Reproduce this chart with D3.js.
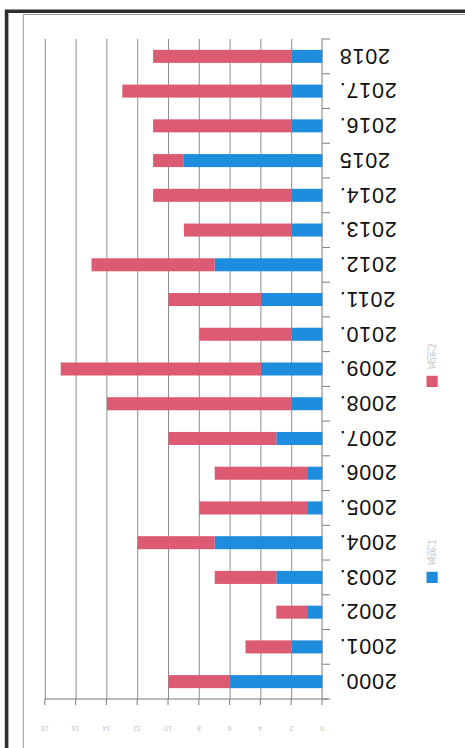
<!DOCTYPE html>
<html>
<head>
<meta charset="utf-8">
<title>bars</title>
<style>
  body { margin: 0; background: #fff; }
  svg { display: block; }
</style>
</head>
<body>
<script src="https://cdn.jsdelivr.net/npm/d3@7"></script>
<svg width="465" height="748" id="mainsvg"></svg>
<script>
const years = ["2000","2001","2002","2003","2004","2005","2006","2007","2008","2009",
               "2010","2011","2012","2013","2014","2015","2016","2017","2018"];
const yearLabels = ["2000.","2001.","2002.","2003.","2004.","2005.","2006.","2007.","2008.","2009.",
                    "2010.","2011.","2012.","2013.","2014.","2015","2016.","2017.","2018"];
const blueValues = [6, 2, 1, 3, 7, 1, 1, 3, 2, 4, 2, 4, 7, 2, 2, 9, 2, 2, 2];
const pinkValues = [4, 3, 2, 4, 5, 7, 6, 7, 12, 13, 6, 6, 8, 7, 9, 2, 9, 11, 9];
const xTicks = [0, 2, 4, 6, 8, 10, 12, 14, 16, 18];
const seriesNames = ["系列1", "系列2"];

const svg = d3.select('#mainsvg');
const W = +svg.attr('width'), H = +svg.attr('height');

// the scan is upside down, so draw the chart normally and turn it
const g = svg.append('g').attr('transform', `rotate(180, ${W / 2}, ${H / 2})`);

const rows = years.map((y, i) => ({ year: y, blue: blueValues[i], pink: pinkValues[i] }));
const stacked = d3.stack().keys(['blue', 'pink'])(rows);
const colors = { blue: '#1f8ddd', pink: '#dd5a73' };

const x = d3.scaleLinear().domain([0, 18]).range([142.5, 419.7]);
const y = d3.scaleBand().domain(years).range([49, 709]).paddingInner(0.625).paddingOuter(0.3125);

// frame
g.append('path')
  .attr('d', `M0,733.5H441.7V0`)
  .attr('fill', 'none').attr('stroke', '#9a9a9a').attr('stroke-width', 1);
g.append('path')
  .attr('d', `M0,736.8H458.4V0`)
  .attr('fill', 'none').attr('stroke', '#2e2e2e').attr('stroke-width', 3.6);

// gridlines
g.append('g').selectAll('line')
  .data(xTicks.slice(1))
  .join('line')
  .attr('x1', d => x(d)).attr('x2', d => x(d))
  .attr('y1', 49).attr('y2', 709)
  .attr('stroke', '#8e8e8e').attr('stroke-width', 1);

// bars
g.append('g').selectAll('g')
  .data(stacked)
  .join('g')
  .attr('fill', d => colors[d.key])
  .selectAll('rect')
  .data(d => d)
  .join('rect')
  .attr('x', d => x(d[0]))
  .attr('width', d => x(d[1]) - x(d[0]))
  .attr('y', d => y(d.data.year))
  .attr('height', y.bandwidth());

// value axis (top in the turned frame)
const xAxis = g.append('g').attr('transform', 'translate(0,49)')
  .call(d3.axisTop(x).tickValues(xTicks).tickSize(6).tickFormat(d3.format('d')));
xAxis.select('.domain').attr('d', 'M137,0H420').attr('stroke', '#7a7a7a');
xAxis.selectAll('.tick line').attr('stroke', '#7a7a7a');
xAxis.selectAll('.tick text')
  .attr('y', -26.5)
  .attr('fill', '#c4c4c4')
  .attr('font-size', 7)
  .attr('font-family', 'Liberation Sans, Arial, sans-serif');

// category axis
const yAxis = g.append('g').attr('transform', `translate(${x(0)},0)`)
  .call(d3.axisLeft(y).tickSize(0).tickFormat(''));
yAxis.select('.domain').attr('stroke', '#7a7a7a');
yAxis.append('g').selectAll('line')
  .data(d3.range(years.length + 1))
  .join('line')
  .attr('x1', -7.5).attr('x2', 0)
  .attr('y1', i => 49 + i * y.step())
  .attr('y2', i => 49 + i * y.step())
  .attr('stroke', '#7a7a7a');

g.append('g').selectAll('text')
  .data(years)
  .join('text')
  .attr('x', 126)
  .attr('y', d => y(d) + y.bandwidth() / 2)
  .attr('dy', '0.36em')
  .attr('text-anchor', 'end')
  .attr('font-family', 'Liberation Sans, Arial, sans-serif')
  .attr('font-size', 21.5)
  .attr('letter-spacing', 0.8)
  .attr('fill', '#111')
  .text((d, i) => yearLabels[i]);

// legend (faint in the scan)
const legend = g.append('g').selectAll('g')
  .data([{ key: 'blue', name: seriesNames[0], top: 165 }, { key: 'pink', name: seriesNames[1], top: 361 }])
  .join('g');
legend.append('rect')
  .attr('x', 27.3).attr('y', d => d.top)
  .attr('width', 11.2).attr('height', 11.2)
  .attr('fill', d => colors[d.key]);
legend.append('text')
  .attr('x', 33.5).attr('y', d => d.top + 18)
  .attr('writing-mode', 'tb')
  .attr('font-family', 'Noto Sans CJK JP, sans-serif')
  .attr('font-size', 10)
  .attr('fill', '#c8c8c8')
  .text(d => d.name);
</script>
</body>
</html>
